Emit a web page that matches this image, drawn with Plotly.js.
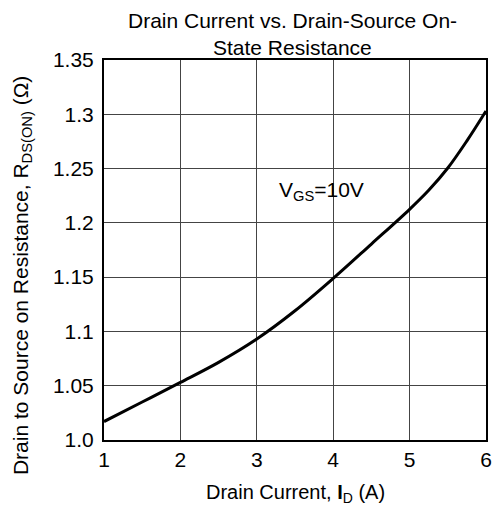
<!DOCTYPE html>
<html>
<head>
<meta charset="utf-8">
<script src="https://cdn.plot.ly/plotly-3.0.1.min.js"></script>
<style>html,body{margin:0;padding:0;background:#fff;}#chart{width:495px;height:508px;}</style>
</head>
<body>
<div id="chart"></div>
<script>
const drainCurrent = [1, 1.5, 2, 2.5, 3, 3.5, 4, 4.5, 5, 5.25, 5.5, 5.75, 6];
const rdsOn = [1.017, 1.035, 1.053, 1.0715, 1.093, 1.119, 1.1488, 1.1805, 1.2125, 1.230, 1.2505, 1.2755, 1.303];
const xTickVals = [1, 2, 3, 4, 5, 6];
const xTickText = ['1', '2', '3', '4', '5', '6'];
const yTickVals = [1.0, 1.05, 1.1, 1.15, 1.2, 1.25, 1.3, 1.35];
const yTickText = ['1.0', '1.05', '1.1', '1.15', '1.2', '1.25', '1.3', '1.35'];
const titleLines = ['Drain Current vs. Drain-Source On-', 'State Resistance'];
const xTitle = 'Drain Current, <b>I</b><sub>D</sub> (A)';
const yTitle = 'Drain to Source on Resistance, R<sub>DS(ON)</sub> (Ω)';
const curveLabel = 'V<sub>GS</sub>=10V';

const font = 'Liberation Sans, Arial, sans-serif';
const trace = {
  x: drainCurrent, y: rdsOn, mode: 'lines', type: 'scatter',
  line: {color: '#000', width: 3, shape: 'spline', smoothing: 1},
  hoverinfo: 'skip', showlegend: false
};
const layout = {
  width: 495, height: 508,
  margin: {l: 104, r: 9, t: 60, b: 68},
  paper_bgcolor: '#fff', plot_bgcolor: '#fff',
  font: {family: font, color: '#000'},
  xaxis: {
    range: [1, 6], tickvals: xTickVals, ticktext: xTickText,
    showgrid: true, gridcolor: '#444', gridwidth: 1,
    showline: true, linecolor: '#000', linewidth: 2, mirror: true,
    ticks: '', tickfont: {size: 21}, ticklabelstandoff: 0, zeroline: false
  },
  yaxis: {
    range: [1.0, 1.35], tickvals: yTickVals, ticktext: yTickText,
    showgrid: true, gridcolor: '#444', gridwidth: 1,
    showline: true, linecolor: '#000', linewidth: 2, mirror: true,
    ticks: '', tickfont: {size: 21}, ticklabelstandoff: 4, zeroline: false
  },
  annotations: [
    {xref: 'paper', yref: 'paper', x: 0.493, y: 1.1039, xanchor: 'center', yanchor: 'middle', showarrow: false,
     text: titleLines[0], font: {size: 21}},
    {xref: 'paper', yref: 'paper', x: 0.493, y: 1.0329, xanchor: 'center', yanchor: 'middle', showarrow: false,
     text: titleLines[1], font: {size: 21}},
    {xref: 'paper', yref: 'paper', x: 0.5, y: -0.142, xanchor: 'center', yanchor: 'middle', showarrow: false,
     text: xTitle, font: {size: 20}},
    {xref: 'paper', yref: 'paper', x: -0.2147, y: 0.434, xanchor: 'center', yanchor: 'middle', showarrow: false,
     textangle: -90, text: yTitle, font: {size: 21}},
    {x: 3.85, y: 1.229, xref: 'x', yref: 'y', showarrow: false,
     text: curveLabel, font: {size: 21}}
  ]
};
Plotly.newPlot('chart', [trace], layout, {displayModeBar: false, staticPlot: true});
</script>
</body>
</html>
